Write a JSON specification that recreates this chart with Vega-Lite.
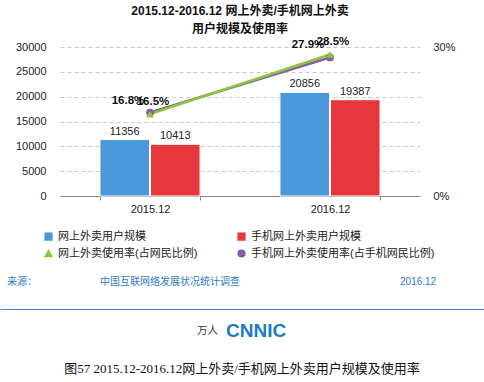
{
  "$schema": "https://vega.github.io/schema/vega-lite/v6.json",
  "padding": {"left": 0, "top": 5, "right": 0, "bottom": 0},
  "spacing": 0,
  "columns": 1,
  "align": "none",
  "background": "white",
  "config": {
    "font": "Liberation Sans, Noto Sans CJK SC",
    "view": {"stroke": null},
    "axis": {"labelFont": "Liberation Sans, Noto Sans CJK SC", "labelColor": "#222", "labelFontSize": 11},
    "legend": {"labelFont": "Liberation Sans, Noto Sans CJK SC"}
  },
  "datasets": {
    "bars": [
      {"date": "2015.12", "series": "网上外卖用户规模", "users": 11356},
      {"date": "2015.12", "series": "手机网上外卖用户规模", "users": 10413},
      {"date": "2016.12", "series": "网上外卖用户规模", "users": 20856},
      {"date": "2016.12", "series": "手机网上外卖用户规模", "users": 19387}
    ],
    "rates": [
      {"date": "2015.12", "series": "手机网上外卖使用率(占手机网民比例)", "rate": 16.8, "label": "16.8%"},
      {"date": "2016.12", "series": "手机网上外卖使用率(占手机网民比例)", "rate": 27.9, "label": "27.9%"},
      {"date": "2015.12", "series": "网上外卖使用率(占网民比例)", "rate": 16.5, "label": "16.5%"},
      {"date": "2016.12", "series": "网上外卖使用率(占网民比例)", "rate": 28.5, "label": "28.5%"}
    ],
    "footer": [
      {"part": "source", "label": "来源："},
      {"part": "survey", "label": "中国互联网络发展状况统计调查"},
      {"part": "date", "label": "2016.12"},
      {"part": "unit", "label": "万人"},
      {"part": "logo", "label": "CNNIC"}
    ]
  },
  "concat": [
    {
      "width": 360,
      "height": 149,
      "title": {
        "text": ["2015.12-2016.12 网上外卖/手机网上外卖", "用户规模及使用率"],
        "fontSize": 12,
        "fontWeight": "bold",
        "lineHeight": 18,
        "frame": "group",
        "offset": 0,
        "color": "#111"
      },
      "layer": [
        {
          "data": {"name": "bars"},
          "encoding": {
            "x": {
              "field": "date", "type": "nominal",
              "scale": {"paddingInner": 0.444, "paddingOuter": 0.222},
              "axis": {"title": null, "labelAngle": 0, "domainColor": "#888", "tickColor": "#888", "tickBand": "extent", "tickSize": 4, "labelPadding": 3}
            },
            "xOffset": {"field": "series", "type": "nominal", "scale": {"domain": ["网上外卖用户规模", "手机网上外卖用户规模"], "paddingInner": 0.02}},
            "y": {
              "field": "users", "type": "quantitative",
              "scale": {"domain": [0, 30000]},
              "axis": {"title": null, "values": [0, 5000, 10000, 15000, 20000, 25000, 30000], "labelOverlap": false, "domain": false, "ticks": false, "labelPadding": 14, "minExtent": 60, "gridColor": "#c8c8c8", "gridDash": [4, 3], "format": "d"}
            }
          },
          "layer": [
            {
              "mark": {"type": "bar", "stroke": "white", "strokeWidth": 1},
              "encoding": {
                "color": {
                  "field": "series", "type": "nominal",
                  "scale": {
                    "domain": ["网上外卖用户规模", "手机网上外卖用户规模", "网上外卖使用率(占网民比例)", "手机网上外卖使用率(占手机网民比例)"],
                    "range": ["#4a97dc", "#e8373c", "#8cc63e", "#8a59a8"]
                  },
                  "legend": {
                    "orient": "none", "legendX": -17, "legendY": 184, "columns": 2, "direction": "horizontal", "title": null,
                    "symbolSize": 45, "labelFontSize": 11, "labelColor": "#222", "columnPadding": 37, "rowPadding": 4, "padding": 0, "labelLimit": 220
                  }
                }
              }
            },
            {
              "mark": {"type": "text", "baseline": "bottom", "dy": -3, "fontSize": 11, "color": "#222"},
              "encoding": {
                "text": {"field": "users", "type": "quantitative", "format": "d"}
              }
            }
          ]
        },
        {
          "data": {"name": "rates"},
          "encoding": {
            "x": {"field": "date", "type": "nominal"},
            "y": {
              "field": "rate", "type": "quantitative",
              "scale": {"domain": [0, 30]},
              "axis": {"title": null, "orient": "right", "values": [0, 30], "labelExpr": "datum.value + '%'", "domain": false, "ticks": false, "grid": false, "labelPadding": 13}
            }
          },
          "layer": [
            {
              "mark": {"type": "line", "strokeWidth": 2.5},
              "encoding": {
                "color": {"field": "series", "type": "nominal"}
              }
            },
            {
              "mark": {"type": "point", "filled": true, "opacity": 1, "size": 60},
              "encoding": {
                "color": {"field": "series", "type": "nominal"},
                "shape": {
                  "field": "series", "type": "nominal",
                  "scale": {
                    "domain": ["网上外卖用户规模", "手机网上外卖用户规模", "网上外卖使用率(占网民比例)", "手机网上外卖使用率(占手机网民比例)"],
                    "range": ["square", "square", "triangle-up", "circle"]
                  }
                }
              }
            },
            {
              "transform": [{"filter": "datum.series === '手机网上外卖使用率(占手机网民比例)'"}],
              "mark": {"type": "text", "dx": -22, "dy": -12, "fontSize": 11.5, "fontWeight": "bold", "color": "#111"},
              "encoding": {"text": {"field": "label"}}
            },
            {
              "transform": [{"filter": "datum.series === '网上外卖使用率(占网民比例)'"}],
              "mark": {"type": "text", "dx": 3, "dy": -12, "fontSize": 11.5, "fontWeight": "bold", "color": "#111"},
              "encoding": {"text": {"field": "label"}}
            }
          ]
        }
      ],
      "resolve": {"scale": {"y": "independent"}}
    },
    {
      "width": 424,
      "height": 95,
      "data": {"name": "footer"},
      "encoding": {
        "x": {
          "field": "part", "type": "nominal",
          "scale": {"type": "point", "domain": ["source", "survey", "date"], "padding": 0, "range": [-60, 424]},
          "axis": {"title": null, "labels": false, "ticks": false, "grid": false, "domainColor": "#4a86c8", "domainWidth": 1.2}
        },
        "text": {"field": "label"}
      },
      "layer": [
        {
          "transform": [{"filter": "datum.part === 'source'"}],
          "mark": {"type": "text", "align": "left", "dx": 7, "dy": 20, "fontSize": 10, "color": "#2f7bc4"}
        },
        {
          "transform": [{"filter": "datum.part === 'survey'"}],
          "mark": {"type": "text", "align": "left", "dx": -142, "dy": 20, "fontSize": 10, "color": "#2f7bc4"}
        },
        {
          "transform": [{"filter": "datum.part === 'date'"}],
          "mark": {"type": "text", "align": "left", "dx": -84, "dy": 20, "fontSize": 10, "color": "#2f7bc4"}
        }
      ]
    },
    {
      "width": 364,
      "height": 38,
      "data": {"name": "footer"},
      "title": {
        "text": "图57  2015.12-2016.12网上外卖/手机网上外卖用户规模及使用率",
        "orient": "bottom",
        "frame": "group",
        "anchor": "middle",
        "offset": 16,
        "fontSize": 13,
        "fontWeight": "normal",
        "font": "Liberation Serif, Noto Sans CJK SC",
        "color": "#111"
      },
      "encoding": {"text": {"field": "label"}},
      "layer": [
        {
          "transform": [{"filter": "datum.part === 'unit'"}],
          "mark": {"type": "text", "align": "right", "dx": -24, "dy": 3, "fontSize": 10.5, "color": "#333"}
        },
        {
          "transform": [{"filter": "datum.part === 'logo'"}],
          "mark": {"type": "text", "align": "left", "dx": -16, "dy": 3, "fontSize": 19, "fontWeight": "bold", "color": "#1a7cc7"}
        }
      ]
    }
  ]
}
